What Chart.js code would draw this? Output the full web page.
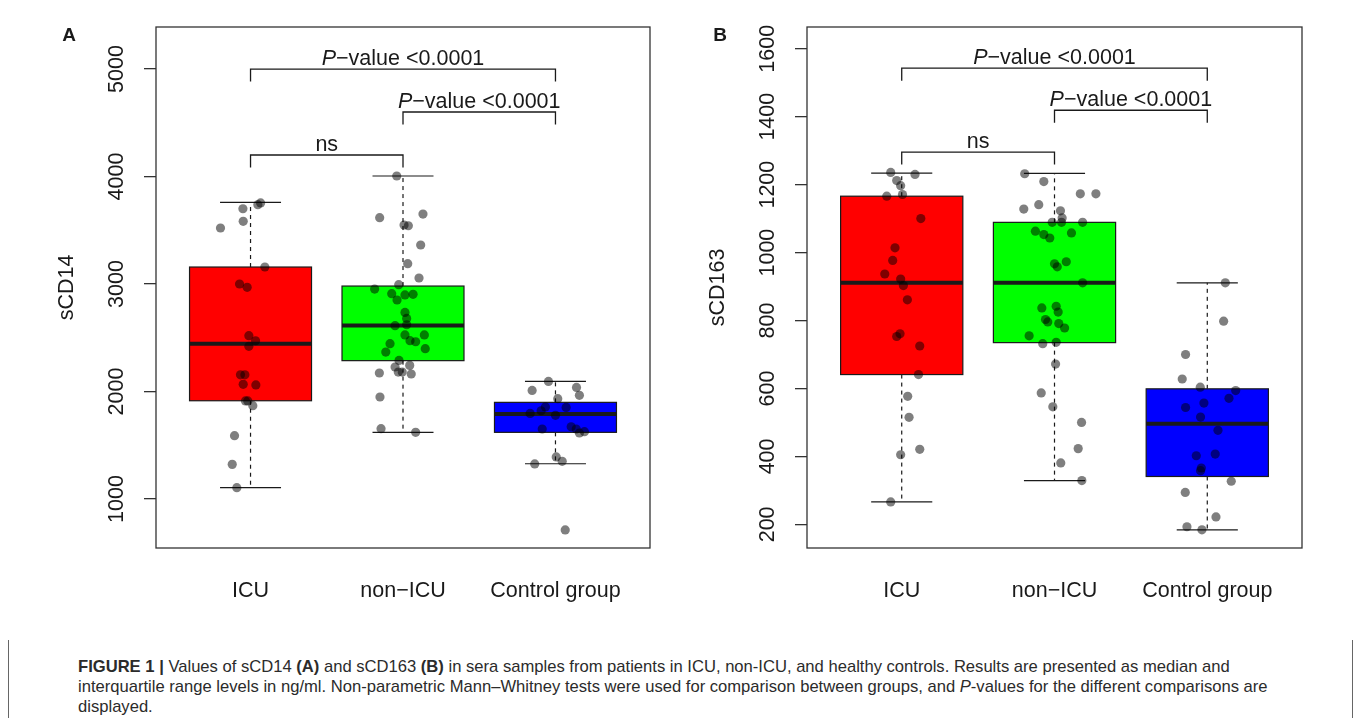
<!DOCTYPE html>
<html><head><meta charset="utf-8">
<script src="https://cdn.jsdelivr.net/npm/chart.js@4.4.1/dist/chart.umd.min.js"></script>
<style>
html,body{margin:0;padding:0;background:#fff;width:1358px;height:718px;overflow:hidden;}
#ca{position:absolute;left:0;top:0;}
#cb{position:absolute;left:680px;top:0;}
#cap{position:absolute;left:78px;top:657px;font-family:"Liberation Sans",Arial,sans-serif;font-size:16.6px;line-height:20px;color:#2b2b2b;white-space:nowrap;}
#frame{position:absolute;left:8px;top:640px;width:1343px;height:90px;border-left:1px solid #666;border-right:1px solid #666;}
</style></head>
<body>
<canvas id="ca" width="680" height="620"></canvas>
<canvas id="cb" width="678" height="620"></canvas>
<div id="frame"></div>
<div id="cap"><b>FIGURE 1 |</b> Values of sCD14 <b>(A)</b> and sCD163 <b>(B)</b> in sera samples from patients in ICU, non-ICU, and healthy controls. Results are presented as median and<br>interquartile range levels in ng/ml. Non-parametric Mann–Whitney tests were used for comparison between groups, and <i>P</i>-values for the different comparisons are<br>displayed.</div>
<script>
// ---------- data ----------
const categories = ['ICU', 'non\u2212ICU', 'Control group'];
const boxColors = ['#ff0000', '#00ff00', '#0000ff'];

// Panel A: sCD14
const yTicksA = [1000, 2000, 3000, 4000, 5000];
const aIcu = [3754, 3738, 3700, 3583, 3521, 3158, 3000, 2969, 2519, 2472, 2420, 2155, 2155, 2067, 2061, 1912, 1912, 1868, 1589, 1322, 1105];
const aIcuJit = [0.066, 0.048, -0.050, -0.048, -0.197, 0.094, -0.072, -0.022, -0.011, 0.033, -0.011, -0.066, -0.037, -0.048, 0.035, -0.033, -0.018, 0.015, -0.105, -0.120, -0.090];
const aNon = [4005, 3617, 3651, 3549, 3542, 3363, 3189, 3056, 2994, 2953, 2910, 2851, 2898, 2904, 2736, 2680, 2612, 2621, 2526, 2526, 2445, 2473, 2463, 2398, 2367, 2289, 2228, 2243, 2172, 2181, 2181, 2163, 1949, 1654, 1620];
const aNonJit = [-0.041, -0.153, 0.131, 0.007, 0.035, 0.116, 0.031, 0.105, -0.028, -0.186, -0.074, -0.039, 0.013, 0.066, 0.013, 0.024, -0.052, 0.024, 0.013, 0.140, -0.085, 0.046, 0.083, 0.146, -0.113, -0.026, -0.052, 0.044, -0.155, -0.031, -0.005, 0.054, -0.151, -0.144, 0.083];
const aCtl = [2094, 2010, 2038, 1964, 1933, 1856, 1852, 1821, 1796, 1778, 1651, 1672, 1651, 1614, 1626, 1391, 1350, 1326, 712];
const aCtlJit = [-0.046, -0.153, 0.138, 0.157, 0.015, -0.066, 0.070, -0.094, -0.166, 0, -0.087, 0.103, 0.136, 0.157, 0.190, 0.005, 0.044, -0.136, 0.064];
// box stats [whiskerLow, q1, median, q3, whiskerHigh]
const aStatsIcu = [1105, 1914, 2445, 3158, 3759];
const aStatsNon = [1620, 2287, 2615, 2981, 4005];
const aStatsCtl = [1328, 1620, 1791, 1899, 2094];
// brackets [fromGroup, toGroup, level, label]
const aBrackets = [[1, 3, 5000, 'P'], [2, 3, 4600, 'P'], [1, 2, 4200, 'ns']];

// Panel B: sCD163
const yTicksB = [200, 400, 600, 800, 1000, 1200, 1400, 1600];
const bIcu = [1236, 1230, 1212, 1197, 1166, 1171, 1100, 1014, 977, 937, 922, 903, 861, 761, 753, 725, 641, 577, 515, 421, 405, 266];
const bIcuJit = [-0.072, 0.087, -0.033, -0.007, -0.098, 0.005, 0.125, -0.044, -0.059, -0.111, -0.007, 0.011, 0.037, -0.011, -0.033, 0.118, 0.110, 0.039, 0.048, 0.118, -0.007, -0.072];
const bNon = [1232, 1209, 1173, 1173, 1141, 1128, 1123, 1102, 1089, 1089, 1089, 1063, 1053, 1043, 1058, 967, 958, 973, 911, 837, 842, 825, 803, 796, 791, 778, 755, 732, 736, 672, 587, 546, 500, 423, 381, 329];
const bNonJit = [-0.195, -0.070, 0.169, 0.271, -0.103, -0.201, 0.039, 0.050, -0.015, 0.046, 0.184, -0.125, -0.070, -0.031, 0.111, 0, 0.018, 0.077, 0.184, -0.083, 0.011, 0.024, -0.059, -0.044, 0.028, 0.066, -0.166, -0.077, 0.011, 0.007, -0.087, -0.011, 0.177, 0.155, 0.041, 0.179];
const bCtl = [911, 798, 700, 628, 604, 594, 571, 557, 544, 516, 477, 402, 407, 366, 358, 327, 294, 222, 193, 184];
const bCtlJit = [0.118, 0.107, -0.142, -0.164, -0.046, 0.186, 0.142, -0.022, -0.142, -0.044, 0.070, -0.072, 0.052, -0.039, -0.044, 0.157, -0.144, 0.057, -0.133, -0.035];
const bStatsIcu = [266, 641, 911, 1166, 1234];
const bStatsNon = [329, 735, 911, 1089, 1233];
const bStatsCtl = [184, 341, 496, 599, 911];
const bBrackets = [[1, 3, 1543, 'P'], [2, 3, 1419, 'P'], [1, 2, 1296, 'ns']];

// ---------- drawing ----------
const FONT = '"Liberation Sans", Arial, Helvetica, sans-serif';
const FS = 21.5;
const INK = '#1a1a1a';

const panels = {
  ca: {letter: 'A', title: 'sCD14', ymin: 544, ymax: 5391, yTicks: yTicksA, axisW: 156, padRight: 30, drop: 115,
       groups: [{vals: aIcu, jit: aIcuJit, st: aStatsIcu}, {vals: aNon, jit: aNonJit, st: aStatsNon}, {vals: aCtl, jit: aCtlJit, st: aStatsCtl}],
       brackets: aBrackets},
  cb: {letter: 'B', title: 'sCD163', ymin: 130.5, ymax: 1664, yTicks: yTicksB, axisW: 127, padRight: 56, drop: 37,
       groups: [{vals: bIcu, jit: bIcuJit, st: bStatsIcu}, {vals: bNon, jit: bNonJit, st: bStatsNon}, {vals: bCtl, jit: bCtlJit, st: bStatsCtl}],
       brackets: bBrackets}
};

function seg(ctx, x1, y1, x2, y2) { ctx.beginPath(); ctx.moveTo(x1, y1); ctx.lineTo(x2, y2); ctx.stroke(); }

const boxPlugin = {
  id: 'boxdraw',
  beforeDatasetsDraw(chart) {
    const cfg = panels[chart.canvas.id];
    const ctx = chart.ctx, xs = chart.scales.x, ys = chart.scales.y;
    ctx.save();
    cfg.groups.forEach((g, gi) => {
      const c = gi + 1;
      const xl = xs.getPixelForValue(c - 0.4), xr = xs.getPixelForValue(c + 0.4);
      const cl = xs.getPixelForValue(c - 0.2), cr = xs.getPixelForValue(c + 0.2);
      const xc = xs.getPixelForValue(c);
      const [lo, q1, md, q3, hi] = g.st.map(v => ys.getPixelForValue(v));
      ctx.strokeStyle = INK; ctx.lineWidth = 1.2;
      ctx.setLineDash([4, 4]);
      seg(ctx, xc, q3, xc, hi); seg(ctx, xc, q1, xc, lo);
      ctx.setLineDash([]);
      seg(ctx, cl, hi, cr, hi); seg(ctx, cl, lo, cr, lo);
      ctx.fillStyle = boxColors[gi];
      ctx.fillRect(xl, q3, xr - xl, q1 - q3);
      ctx.strokeRect(xl, q3, xr - xl, q1 - q3);
      ctx.lineWidth = 4; ctx.lineCap = 'butt';
      seg(ctx, xl, md, xr, md);
    });
    ctx.restore();
  },
  afterDraw(chart) {
    const cfg = panels[chart.canvas.id];
    const ctx = chart.ctx, xs = chart.scales.x, ys = chart.scales.y, a = chart.chartArea;
    ctx.save();
    ctx.strokeStyle = '#333'; ctx.lineWidth = 1.3;
    ctx.strokeRect(a.left, a.top, a.right - a.left, a.bottom - a.top);
    ctx.fillStyle = INK;
    ctx.font = FS + 'px ' + FONT;
    ctx.textAlign = 'center'; ctx.textBaseline = 'middle';
    cfg.yTicks.forEach(v => {
      const y = ys.getPixelForValue(v);
      ctx.save(); ctx.translate(a.left - 39, y); ctx.rotate(-Math.PI / 2);
      ctx.fillText(String(v), 0, 0); ctx.restore();
    });
    ctx.save(); ctx.translate(a.left - 89, (a.top + a.bottom) / 2); ctx.rotate(-Math.PI / 2);
    ctx.fillText(cfg.title, 0, 0); ctx.restore();
    ctx.font = 'bold 19px ' + FONT;
    ctx.textAlign = 'center';
    ctx.fillText(cfg.letter, a.left - 87, 36);
    ctx.strokeStyle = INK; ctx.lineWidth = 1.3;
    cfg.brackets.forEach(([g1, g2, lvl, lab]) => {
      const x1 = xs.getPixelForValue(g1), x2 = xs.getPixelForValue(g2);
      const y = ys.getPixelForValue(lvl), yd = ys.getPixelForValue(lvl - cfg.drop);
      ctx.beginPath(); ctx.moveTo(x1, yd); ctx.lineTo(x1, y); ctx.lineTo(x2, y); ctx.lineTo(x2, yd); ctx.stroke();
      const xm = (x1 + x2) / 2, by = y - 4;
      ctx.textBaseline = 'alphabetic';
      if (lab === 'ns') {
        ctx.font = FS + 'px ' + FONT; ctx.textAlign = 'center';
        ctx.fillText('ns', xm, by);
      } else {
        const it = 'italic ' + FS + 'px ' + FONT, rg = FS + 'px ' + FONT;
        const rest = '\u2212value <0.0001';
        ctx.font = it; const w1 = ctx.measureText('P').width;
        ctx.font = rg; const w2 = ctx.measureText(rest).width;
        const x0 = xm - (w1 + w2) / 2;
        ctx.textAlign = 'left';
        ctx.font = it; ctx.fillText('P', x0, by);
        ctx.font = rg; ctx.fillText(rest, x0 + w1, by);
      }
    });
    ctx.restore();
  }
};

function makeChart(id) {
  const cfg = panels[id];
  const datasets = cfg.groups.map((g, gi) => ({
    data: g.vals.map((v, i) => ({x: gi + 1 + g.jit[i], y: v})),
    pointRadius: 4.6, pointHoverRadius: 4.6,
    backgroundColor: 'rgba(0,0,0,0.5)', borderWidth: 0
  }));
  return new Chart(document.getElementById(id), {
    type: 'scatter',
    data: {datasets},
    options: {
      responsive: false, animation: false, devicePixelRatio: 1,
      layout: {padding: {left: 0, right: cfg.padRight, top: 27, bottom: 0}},
      plugins: {legend: {display: false}, tooltip: {enabled: false}},
      scales: {
        x: {
          type: 'linear', min: 0.38, max: 3.62,
          afterBuildTicks: s => { s.ticks = categories.map((c, i) => ({value: i + 1})); },
          ticks: {callback: v => categories[Math.round(v) - 1], font: {family: FONT, size: FS}, color: INK,
                  padding: 30, maxRotation: 0, minRotation: 0, autoSkip: false},
          grid: {display: false, drawTicks: false}, border: {display: false},
          afterFit: s => { s.height = 72; }
        },
        y: {
          type: 'linear', min: cfg.ymin, max: cfg.ymax,
          afterBuildTicks: s => { s.ticks = cfg.yTicks.map(v => ({value: v})); },
          ticks: {display: false},
          grid: {drawOnChartArea: false, drawTicks: true, tickLength: 12, color: '#333', lineWidth: 1.3},
          border: {display: false},
          afterFit: s => { s.width = cfg.axisW; }
        }
      }
    },
    plugins: [boxPlugin]
  });
}
makeChart('ca');
makeChart('cb');
</script>
</body></html>
